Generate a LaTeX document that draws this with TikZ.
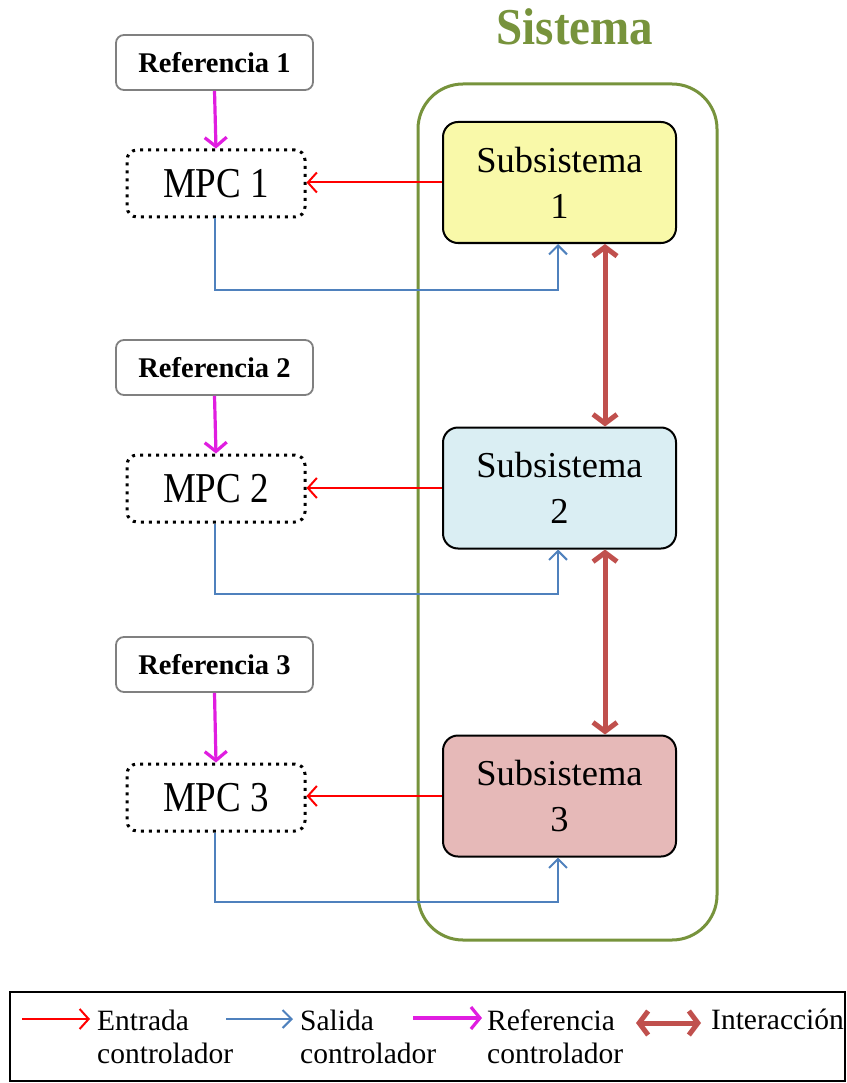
\documentclass[tikz,border=0pt]{standalone}
\usepackage{fontspec}
\usepackage{graphicx}
\setmainfont{Liberation Serif}
\usetikzlibrary{arrows.meta}
\newcommand{\vstretch}[2]{\scalebox{1}[#1]{#2}}
\definecolor{sysgreen}{HTML}{77933C}
\definecolor{inred}{HTML}{FF0000}
\definecolor{outblue}{HTML}{4F81BD}
\definecolor{refmag}{HTML}{E01DE0}
\definecolor{interbrown}{HTML}{C0504D}
\definecolor{fillone}{HTML}{F9F9A9}
\definecolor{filltwo}{HTML}{DAEEF3}
\definecolor{fillthree}{HTML}{E6B9B8}
\definecolor{refgray}{HTML}{808080}
\tikzset{
  refbox/.style={draw=refgray, line width=1.8pt, rounded corners=8pt, minimum width=197pt, minimum height=55pt, inner sep=0pt, font=\fontsize{28.5}{32}\selectfont\bfseries},
  mpcbox/.style={draw=black, line width=3pt, dash pattern=on 3pt off 5pt, rounded corners=10pt, minimum width=178pt, minimum height=67pt, inner sep=0pt, font=\fontsize{37}{44}\selectfont},
  subbox/.style={draw=black, line width=2pt, rounded corners=15pt, minimum width=233pt, minimum height=121pt, inner sep=0pt, align=center, font=\fontsize{36.5}{46}\selectfont},
  redarr/.style={draw=inred, line width=2pt, -{Straight Barb[length=9pt,width=20pt,line width=2pt]}},
  bluearr/.style={draw=outblue, line width=2pt, -{Straight Barb[length=9pt,width=18pt,line width=2pt]}},
  magarr/.style={draw=refmag, line width=3.2pt, -{Straight Barb[length=9pt,width=22pt,line width=3.2pt]}},
  brownarr/.style={draw=interbrown, line width=5pt, {Straight Barb[length=9pt,width=24pt,line width=5pt]}-{Straight Barb[length=9pt,width=24pt,line width=5pt]}},
  legtext/.style={anchor=west, inner sep=0pt, align=left, font=\fontsize{29.5}{33}\selectfont}
}
\begin{document}
\begin{tikzpicture}[x=1pt,y=-1pt]
\useasboundingbox (0,0) rectangle (846,1083);
% system
\node[text=sysgreen, font=\fontsize{47}{52}\selectfont\bfseries, inner sep=0pt] (title) at (575,27) {\vstretch{1.1}{Sistema}};
\draw[sysgreen, line width=3pt, rounded corners=45pt] (418,84) rectangle (717,940);
% subsystems
\node[subbox, fill=fillone] (sub1) at (559.5,182.5) {Subsistema\\1};
\node[subbox, fill=filltwo] (sub2) at (559.5,488) {Subsistema\\2};
\node[subbox, fill=fillthree] (sub3) at (559.5,796) {Subsistema\\3};
% references
\node[refbox] (ref1) at (214.5,62.5) {Referencia 1};
\node[refbox] (ref2) at (214.5,367.5) {Referencia 2};
\node[refbox] (ref3) at (214.5,664.5) {Referencia 3};
% mpc
\node[mpcbox] (mpc1) at (216,183.5) {\vstretch{1.15}{MPC 1}};
\node[mpcbox] (mpc2) at (216,488.5) {\vstretch{1.15}{MPC 2}};
\node[mpcbox] (mpc3) at (216,797.5) {\vstretch{1.15}{MPC 3}};
% reference arrows
\draw[magarr] (ref1.south) -- (mpc1.north);
\draw[magarr] (ref2.south) -- (mpc2.north);
\draw[magarr] (ref3.south) -- (mpc3.north);
% input arrows
\draw[redarr] (sub1.west) -- (sub1.west -| mpc1.east);
\draw[redarr] (sub2.west) -- (sub2.west -| mpc2.east);
\draw[redarr] (sub3.west) -- (sub3.west -| mpc3.east);
% output arrows
\draw[bluearr] ([xshift=-1pt]mpc1.south) -- ++(0,71) -| ([xshift=-1.5pt]sub1.south);
\draw[bluearr] ([xshift=-1pt]mpc2.south) -- ++(0,70) -| ([xshift=-1.5pt]sub2.south);
\draw[bluearr] ([xshift=-1pt]mpc3.south) -- ++(0,69) -| ([xshift=-1.5pt]sub3.south);
% interactions
\draw[brownarr] ([xshift=45.5pt]sub1.south) -- ([xshift=45.5pt]sub2.north);
\draw[brownarr] ([xshift=45.5pt]sub2.south) -- ([xshift=45.5pt]sub3.north);
% legend
\draw[black, line width=2pt] (10,992) rectangle (845,1081);
\coordinate (l1a) at (22,1019); \coordinate (l1b) at (90,1019);
\coordinate (l2a) at (226,1019); \coordinate (l2b) at (293,1019);
\coordinate (l3a) at (413,1018); \coordinate (l3b) at (482,1018);
\coordinate (l4a) at (636,1023); \coordinate (l4b) at (701,1023);
\draw[redarr] (l1a) -- (l1b);
\draw[bluearr] (l2a) -- (l2b);
\draw[magarr] (l3a) -- (l3b);
\draw[brownarr] (l4a) -- (l4b);
\node[legtext] (t1) at (97,1037) {Entrada\\controlador};
\node[legtext] (t2) at (300,1037) {Salida\\controlador};
\node[legtext] (t3) at (487,1037) {Referencia\\controlador};
\node[legtext, anchor=base west] (t4) at (711,1029) {Interacción};
\end{tikzpicture}
\end{document}
